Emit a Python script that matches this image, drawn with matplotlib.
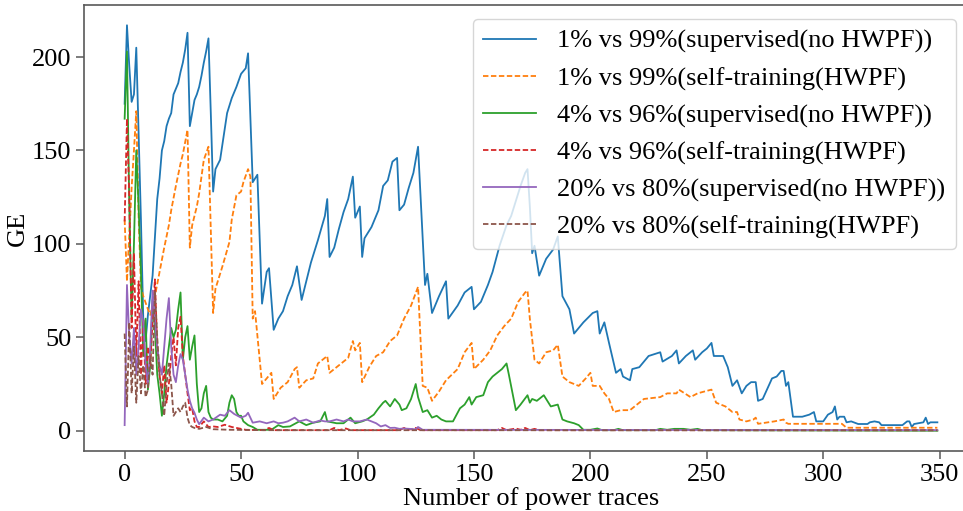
import matplotlib.pyplot as plt

plt.rcParams['font.family'] = ['Liberation Serif', 'DejaVu Serif']

labels = ['1% vs 99%(supervised(no HWPF))',
          '1% vs 99%(self-training(HWPF)',
          '4% vs 96%(supervised(no HWPF))',
          '4% vs 96%(self-training(HWPF)',
          '20% vs 80%(supervised(no HWPF))',
          '20% vs 80%(self-training(HWPF)']

# 1% vs 99% supervised
sup1_x = [0, 1, 2, 3, 4, 5, 6, 7, 8, 9,
          10, 12, 14, 15, 16, 17, 18, 19, 20, 21,
          22, 23, 24, 25, 26, 27, 28, 29, 30, 31,
          32, 33, 34, 35, 36, 37, 38, 39, 41, 44,
          46, 48, 50, 52, 53, 55, 57, 59, 61, 62,
          64, 66, 68, 70, 72, 74, 76, 78, 80, 83,
          86, 87, 88, 90, 92, 94, 96, 98, 99, 101,
          102, 103, 106, 109, 111, 113, 115, 117, 118, 120,
          122, 124, 126, 129, 130, 132, 135, 138, 139, 143,
          146, 149, 150, 153, 156, 158, 161, 164, 166, 170,
          172, 173, 174, 175, 176, 178, 181, 184, 186, 188,
          191, 193, 197, 201, 203, 204, 206, 208, 211, 213,
          214, 217, 218, 221, 225, 230, 231, 235, 237, 238,
          241, 244, 245, 248, 250, 252, 253, 255, 257, 259,
          261, 263, 265, 267, 269, 271, 272, 274, 278, 280,
          282, 283, 284, 285, 287, 291, 294, 296, 297, 300,
          302, 304, 305, 306, 307, 309, 310, 312, 315, 319,
          320, 322, 324, 325, 334, 336, 337, 338, 339, 343,
          344, 345, 346, 349]
sup1_y = [175, 217, 195, 176, 180, 205, 160, 113, 60, 48,
          62, 83, 124, 135, 150, 155, 163, 167, 170, 180,
          183, 186, 192, 197, 204, 213, 163, 170, 177, 180,
          184, 190, 197, 203, 210, 170, 128, 140, 145, 170,
          178, 184, 191, 194, 202, 133, 137, 68, 85, 87,
          54, 60, 64, 72, 78, 88, 70, 80, 90, 102,
          115, 124, 93, 98, 108, 117, 124, 136, 114, 120,
          93, 103, 109, 118, 131, 134, 144, 146, 118, 121,
          130, 138, 152, 78, 84, 63, 72, 80, 60, 67,
          74, 77, 65, 69, 78, 85, 99, 110, 115, 131,
          138, 140, 120, 95, 99, 83, 92, 97, 104, 72,
          65, 52, 58, 63, 64, 52, 58, 47, 31, 33,
          29, 27, 33, 34, 40, 42, 37, 40, 43, 36,
          40, 43, 38, 42, 44, 47, 40, 40, 40, 34,
          24, 27, 20, 24, 26, 26, 16, 17, 28, 29,
          32, 32, 24, 26, 7.5, 7.5, 8.6, 10, 5, 5,
          8.6, 10, 13, 6, 7.5, 7.5, 4.5, 5, 3.6, 3.6,
          4.5, 5, 4.5, 3, 3, 5, 5, 2, 3.6, 4.5,
          7, 3.6, 4.5, 4.5]

# 1% vs 99% self-training
self1_x = [0, 1, 2, 3, 4, 5, 6, 7, 8, 10,
           11, 13, 15, 17, 19, 20, 22, 24, 25, 27,
           28, 29, 31, 32, 34, 36, 38, 39, 42, 45,
           46, 48, 50, 51, 53, 54, 55, 56, 59, 61,
           63, 64, 67, 70, 73, 74, 75, 78, 81, 83,
           87, 88, 93, 96, 98, 99, 101, 102, 105, 108,
           111, 114, 117, 120, 123, 126, 128, 130, 132, 135,
           138, 143, 146, 149, 150, 154, 157, 160, 163, 166,
           169, 172, 173, 174, 176, 178, 181, 184, 186, 188,
           191, 195, 198, 200, 201, 204, 206, 208, 210, 213,
           217, 223, 230, 233, 237, 238, 243, 246, 252, 254,
           258, 261, 263, 264, 267, 270, 271, 272, 279, 283,
           284, 285, 308, 310, 349]
self1_y = [113, 80, 105, 130, 150, 171, 115, 77, 72, 65,
           62, 72, 85, 98, 110, 118, 131, 143, 148, 161,
           98, 110, 120, 127, 145, 152, 63, 76, 88, 101,
           113, 126, 128, 133, 140, 136, 60, 64, 25, 28,
           31, 17, 23, 26, 33, 34, 23, 27, 28, 36,
           40, 31, 36, 39, 48, 43, 47, 26, 34, 40,
           42, 48, 51, 60, 67, 77, 24, 23, 16, 21,
           27, 33, 42, 47, 33, 38, 43, 51, 56, 60,
           69, 74, 75, 60, 38, 36, 42, 43, 46, 29,
           26, 24, 28, 31, 24, 24, 20, 17, 10, 11,
           11, 17, 18, 20, 20, 22, 18, 20, 22, 15,
           13, 10, 10, 6, 5, 6, 7, 3.7, 5, 6,
           4.3, 3.7, 3.7, 1.6, 1.6]

# 4% vs 96% supervised
sup4_x = [0, 1, 2, 3, 4, 5, 6, 7, 8, 9,
          10, 11, 12, 13, 14, 15, 16, 17, 18, 19,
          20, 21, 22, 23, 24, 25, 26, 27, 28, 29,
          30, 31, 32, 33, 34, 35, 36, 37, 38, 40,
          42, 44, 45, 46, 47, 48, 49, 50, 51, 53,
          55, 57, 63, 66, 68, 71, 75, 78, 81, 84,
          86, 87, 91, 94, 97, 99, 102, 104, 107, 109,
          111, 112, 114, 116, 118, 119, 121, 123, 125, 126,
          128, 130, 132, 134, 136, 138, 141, 144, 146, 148,
          149, 151, 154, 156, 158, 160, 162, 164, 165, 168,
          170, 173, 174, 175, 177, 180, 183, 186, 188, 190,
          193, 195, 197, 200, 203, 205, 210, 212, 214, 228,
          230, 233, 236, 240, 243, 246, 248, 349]
sup4_y = [167, 203, 120, 60, 100, 150, 120, 85, 40, 60,
          22, 35, 70, 55, 30, 20, 8, 20, 35, 45,
          55, 50, 54, 65, 74, 38, 50, 56, 38, 45,
          51, 25, 10, 12, 20, 24, 10, 7, 6, 6,
          5, 8, 15, 19, 17, 10, 8, 8, 5, 3,
          2, 0.5, 0.5, 3, 2, 2.3, 5, 3, 4.3, 5,
          10, 5, 4, 4, 7, 4, 5, 6, 8.6, 12,
          15, 16, 13, 17, 14, 11, 12, 17, 25, 18,
          10, 11, 7, 8, 6, 5, 5, 12, 14, 18,
          14, 18, 19, 26, 29, 31, 33, 36, 30, 11,
          14, 19, 15, 17, 16, 19, 13, 14, 6, 5,
          4, 3, 0.5, 0.5, 1.2, 0.3, 0.3, 1, 0.3, 0.3,
          1, 0.5, 1, 1, 0.5, 1, 0.3, 0]

# 4% vs 96% self-training
self4_x = [0, 1, 2, 3, 4, 5, 6, 7, 8, 9,
           10, 11, 12, 13, 14, 15, 16, 17, 18, 19,
           20, 21, 22, 23, 24, 25, 26, 27, 28, 29,
           30, 31, 32, 34, 36, 38, 40, 43, 46, 48,
           52, 60, 62, 64, 88, 90, 92, 95, 97, 118,
           120, 122, 125, 127, 160, 162, 164, 168, 170, 172,
           174, 176, 178, 349]
self4_y = [112, 167, 125, 55, 95, 40, 80, 30, 60, 25,
           45, 35, 60, 81, 45, 30, 20, 35, 15, 25,
           40, 50, 35, 55, 61, 40, 30, 20, 11, 12,
           5, 2, 2, 5, 2, 2.3, 2, 3.2, 2, 1.5,
           0.5, 0.3, 1.5, 0.3, 0.3, 1.5, 0.3, 1.2, 0.3, 0.3,
           1.5, 0.5, 1.5, 0.3, 0.3, 1.5, 0.3, 1.2, 0.5, 1.5,
           0.3, 1, 0.3, 0.3]

# 20% vs 80% supervised
sup20_x = [0, 1, 2, 3, 4, 5, 6, 7, 8, 9,
           10, 11, 12, 13, 14, 15, 16, 17, 18, 19,
           20, 21, 22, 23, 24, 25, 26, 27, 28, 29,
           30, 31, 32, 34, 36, 38, 41, 43, 45, 47,
           50, 52, 53, 55, 58, 61, 64, 66, 68, 70,
           73, 75, 78, 81, 84, 86, 88, 91, 94, 96,
           98, 101, 104, 106, 108, 110, 112, 114, 116, 118,
           120, 125, 126, 128, 349]
sup20_y = [3, 78, 50, 36, 55, 30, 45, 65, 58, 35,
           25, 45, 75, 60, 45, 35, 30, 45, 60, 71,
           45, 30, 26, 35, 41, 38, 30, 22, 16, 12,
           9.6, 6, 3.5, 7, 5, 6, 8.6, 8, 11, 9,
           7, 8, 9.6, 4.3, 5, 4, 5, 4, 4.3, 5,
           7, 5, 6, 4.3, 5.5, 5, 5, 6, 5, 6,
           5, 5, 6, 5, 4, 2.3, 3, 1.5, 1.6, 1,
           1.2, 0.8, 2, 0.5, 0.3]

# 20% vs 80% self-training
self20_x = [0, 1, 2, 3, 4, 5, 6, 7, 8, 9,
            10, 11, 12, 13, 14, 15, 16, 17, 18, 19,
            20, 21, 22, 23, 24, 25, 26, 27, 28, 29,
            30, 32, 35, 38, 45, 60, 349]
self20_y = [52, 13, 58, 20, 45, 15, 40, 20, 35, 18,
            22, 40, 30, 75, 50, 30, 20, 8, 25, 36,
            25, 8, 10, 12, 10, 13, 15, 7, 3, 2,
            1.5, 1, 2, 0.8, 0.5, 0.3, 0.2]

series = [(sup1_x, sup1_y, False), (self1_x, self1_y, True),
          (sup4_x, sup4_y, False), (self4_x, self4_y, True),
          (sup20_x, sup20_y, False), (self20_x, self20_y, True)]

fig = plt.figure(figsize=(9.63, 5.11), dpi=100)
ax = fig.add_axes([84/963, 60/511, 894/963, 446/511])

for (xs, ys, dashed), lab in zip(series, labels):
    line, = ax.plot(xs, ys, label=lab, linewidth=1.3)
    if dashed:
        line.set_dashes((3, 1.4))

for sp in ax.spines.values():
    sp.set_color('0.35')
    sp.set_linewidth(1.2)

ax.set_xticks([0, 50, 100, 150, 200, 250, 300, 350])
ax.set_yticks([0, 50, 100, 150, 200])
ax.tick_params(labelsize=19, length=5.5, width=1.1, color='0.35')
ax.set_xlabel('Number of power traces', fontsize=19, labelpad=1)
ax.set_ylabel('GE', fontsize=19, labelpad=2)

ax.legend(fontsize=19, loc='upper right', borderaxespad=0,
          bbox_to_anchor=((956-84)/894, (451-19)/446), labelspacing=0.5)

fig.savefig('out.png', dpi=100)
